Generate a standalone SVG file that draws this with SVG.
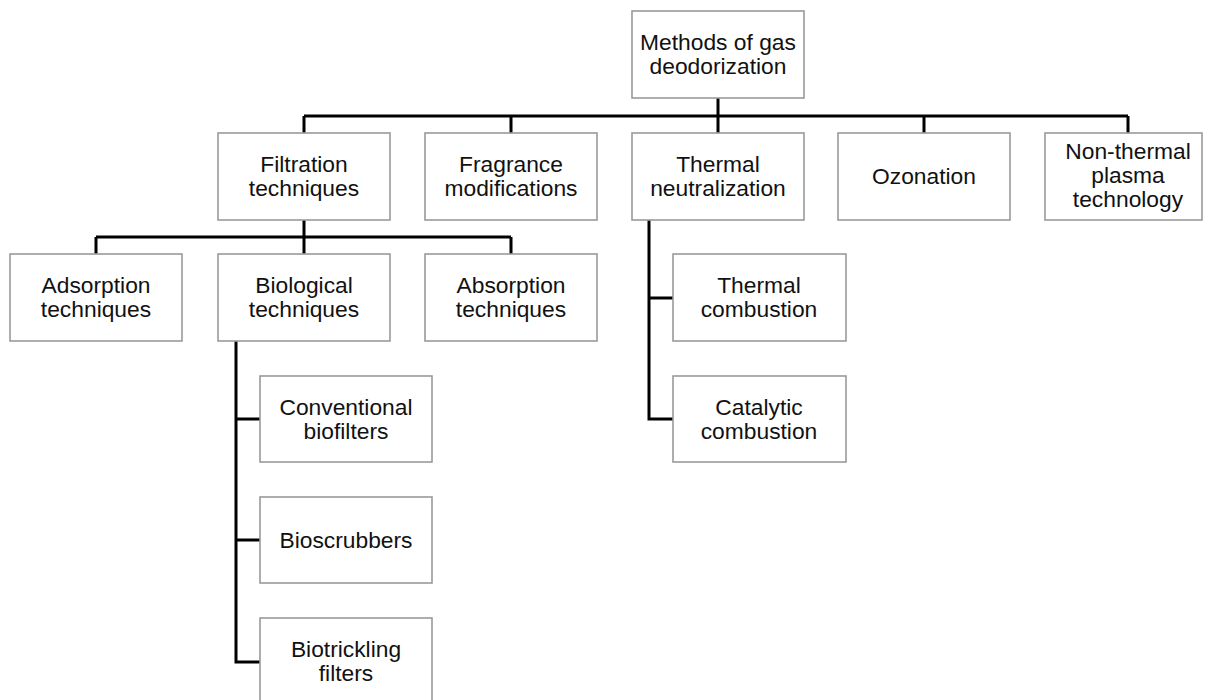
<svg xmlns="http://www.w3.org/2000/svg" width="1205" height="700" viewBox="0 0 1205 700">
<style>
.box{fill:#ffffff;stroke:#9a9a9a;stroke-width:1.6}
.t{font-family:"Liberation Sans",Arial,sans-serif;font-size:22.8px;fill:#111111;text-anchor:middle}
.c{fill:none;stroke:#000000;stroke-width:3}
</style>
<rect width="1205" height="700" fill="#ffffff"/>
<g id="connectors">
<path class="c" d="M718 98V116M304 116H1128M304 116V133M511 116V133M718 116V133M924 116V133M1128 116V133"/>
<path class="c" d="M304 220V237M96 237H511M96 237V254M304 237V254M511 237V254"/>
<path class="c" d="M649 220V419H673M649 298H673"/>
<path class="c" d="M236 341V662H260M236 419H260M236 540H260"/>
</g>
<g id="root"><rect class="box" x="632" y="11" width="172" height="87"/><text class="t" x="718" y="50">Methods of gas</text><text class="t" x="718" y="74">deodorization</text></g>
<g id="filtration"><rect class="box" x="218" y="133" width="172" height="87"/><text class="t" x="304" y="172">Filtration</text><text class="t" x="304" y="196">techniques</text></g>
<g id="fragrance"><rect class="box" x="425" y="133" width="172" height="87"/><text class="t" x="511" y="172">Fragrance</text><text class="t" x="511" y="196">modifications</text></g>
<g id="thermal"><rect class="box" x="632" y="133" width="172" height="87"/><text class="t" x="718" y="172">Thermal</text><text class="t" x="718" y="196">neutralization</text></g>
<g id="ozonation"><rect class="box" x="838" y="133" width="172" height="87"/><text class="t" x="924" y="184">Ozonation</text></g>
<g id="nonthermal"><rect class="box" x="1045" y="133" width="157" height="87"/><text class="t" x="1128" y="159">Non-thermal</text><text class="t" x="1128" y="183">plasma</text><text class="t" x="1128" y="207">technology</text></g>
<g id="adsorption"><rect class="box" x="10" y="254" width="172" height="87"/><text class="t" x="96" y="293">Adsorption</text><text class="t" x="96" y="317">techniques</text></g>
<g id="biological"><rect class="box" x="218" y="254" width="172" height="87"/><text class="t" x="304" y="293">Biological</text><text class="t" x="304" y="317">techniques</text></g>
<g id="absorption"><rect class="box" x="425" y="254" width="172" height="87"/><text class="t" x="511" y="293">Absorption</text><text class="t" x="511" y="317">techniques</text></g>
<g id="thermalcomb"><rect class="box" x="673" y="254" width="173" height="87"/><text class="t" x="759" y="293">Thermal</text><text class="t" x="759" y="317">combustion</text></g>
<g id="catalytic"><rect class="box" x="673" y="376" width="173" height="86"/><text class="t" x="759" y="415">Catalytic</text><text class="t" x="759" y="439">combustion</text></g>
<g id="conventional"><rect class="box" x="260" y="376" width="172" height="86"/><text class="t" x="346" y="415">Conventional</text><text class="t" x="346" y="439">biofilters</text></g>
<g id="bioscrubbers"><rect class="box" x="260" y="497" width="172" height="86"/><text class="t" x="346" y="548">Bioscrubbers</text></g>
<g id="biotrickling"><rect class="box" x="260" y="618" width="172" height="86"/><text class="t" x="346" y="657">Biotrickling</text><text class="t" x="346" y="681">filters</text></g>
</svg>
